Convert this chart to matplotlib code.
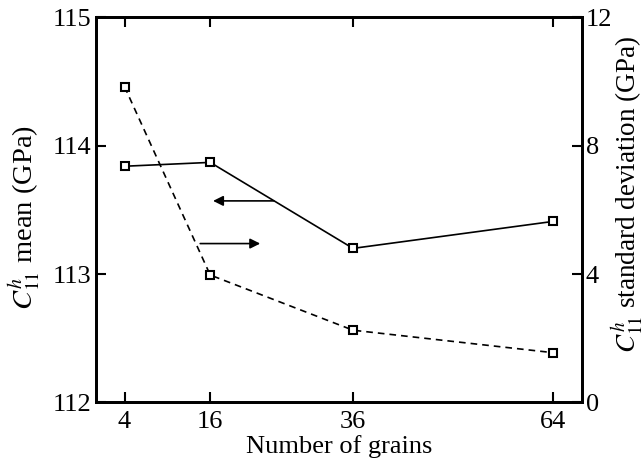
import matplotlib
matplotlib.use('Agg')
import matplotlib.pyplot as plt

plt.rcParams['font.family'] = 'Liberation Serif'
plt.rcParams['mathtext.fontset'] = 'stix'
plt.rcParams['font.size'] = 19

# data
grains = [4, 16, 36, 64]
c11_mean = [113.84, 113.87, 113.20, 113.41]   # GPa, left axis
c11_std = [9.84, 3.97, 2.25, 1.55]            # GPa, right axis

fig = plt.figure(figsize=(6.44, 4.69), dpi=100)
ax = fig.add_axes([0.149, 0.142, 0.754, 0.821])
ax2 = ax.twinx()

ax.plot(grains, c11_mean, color='black', lw=1.2, marker='s', ms=6,
        mfc='white', mec='black', mew=1.5)
ax2.plot(grains, c11_std, color='black', lw=1.2, ls=(0, (4, 3)), marker='s', ms=6,
         mfc='white', mec='black', mew=1.5)

ax.set_xlim(0, 68)
ax.set_ylim(112, 115)
ax2.set_ylim(0, 12)
ax.set_xticks(grains)
ax.set_yticks([112, 113, 114, 115])
ax2.set_yticks([0, 4, 8, 12])

ax.tick_params(axis='x', direction='in', top=True, length=7, width=1.5, pad=6)
ax.tick_params(axis='y', direction='in', right=False, length=7, width=1.5, pad=3)
ax2.tick_params(axis='y', direction='in', length=7, width=1.5, pad=3)
for a in (ax, ax2):
    for s in a.spines.values():
        s.set_linewidth(2)

ax.set_xlabel('Number of grains', labelpad=2)
ax.set_ylabel(r'$C_{11}^{h}$ mean (GPa)', fontsize=20.5)
ax2.set_ylabel(r'$C_{11}^{h}$ standard deviation (GPa)', fontsize=19.5)
ax.yaxis.set_label_coords(-0.11, 0.48)
ax2.yaxis.set_label_coords(1.058, 0.54)

# arrows pointing to the axis each curve belongs to
ax.annotate('', xy=(16.4, 113.57), xytext=(24.9, 113.57),
            arrowprops=dict(arrowstyle='-|>', color='black', lw=1.2,
                            mutation_scale=15, shrinkA=0, shrinkB=0))
ax2.annotate('', xy=(23.0, 4.95), xytext=(14.6, 4.95),
             arrowprops=dict(arrowstyle='-|>', color='black', lw=1.2,
                             mutation_scale=15, shrinkA=0, shrinkB=0))

fig.savefig('out.png', dpi=100)
